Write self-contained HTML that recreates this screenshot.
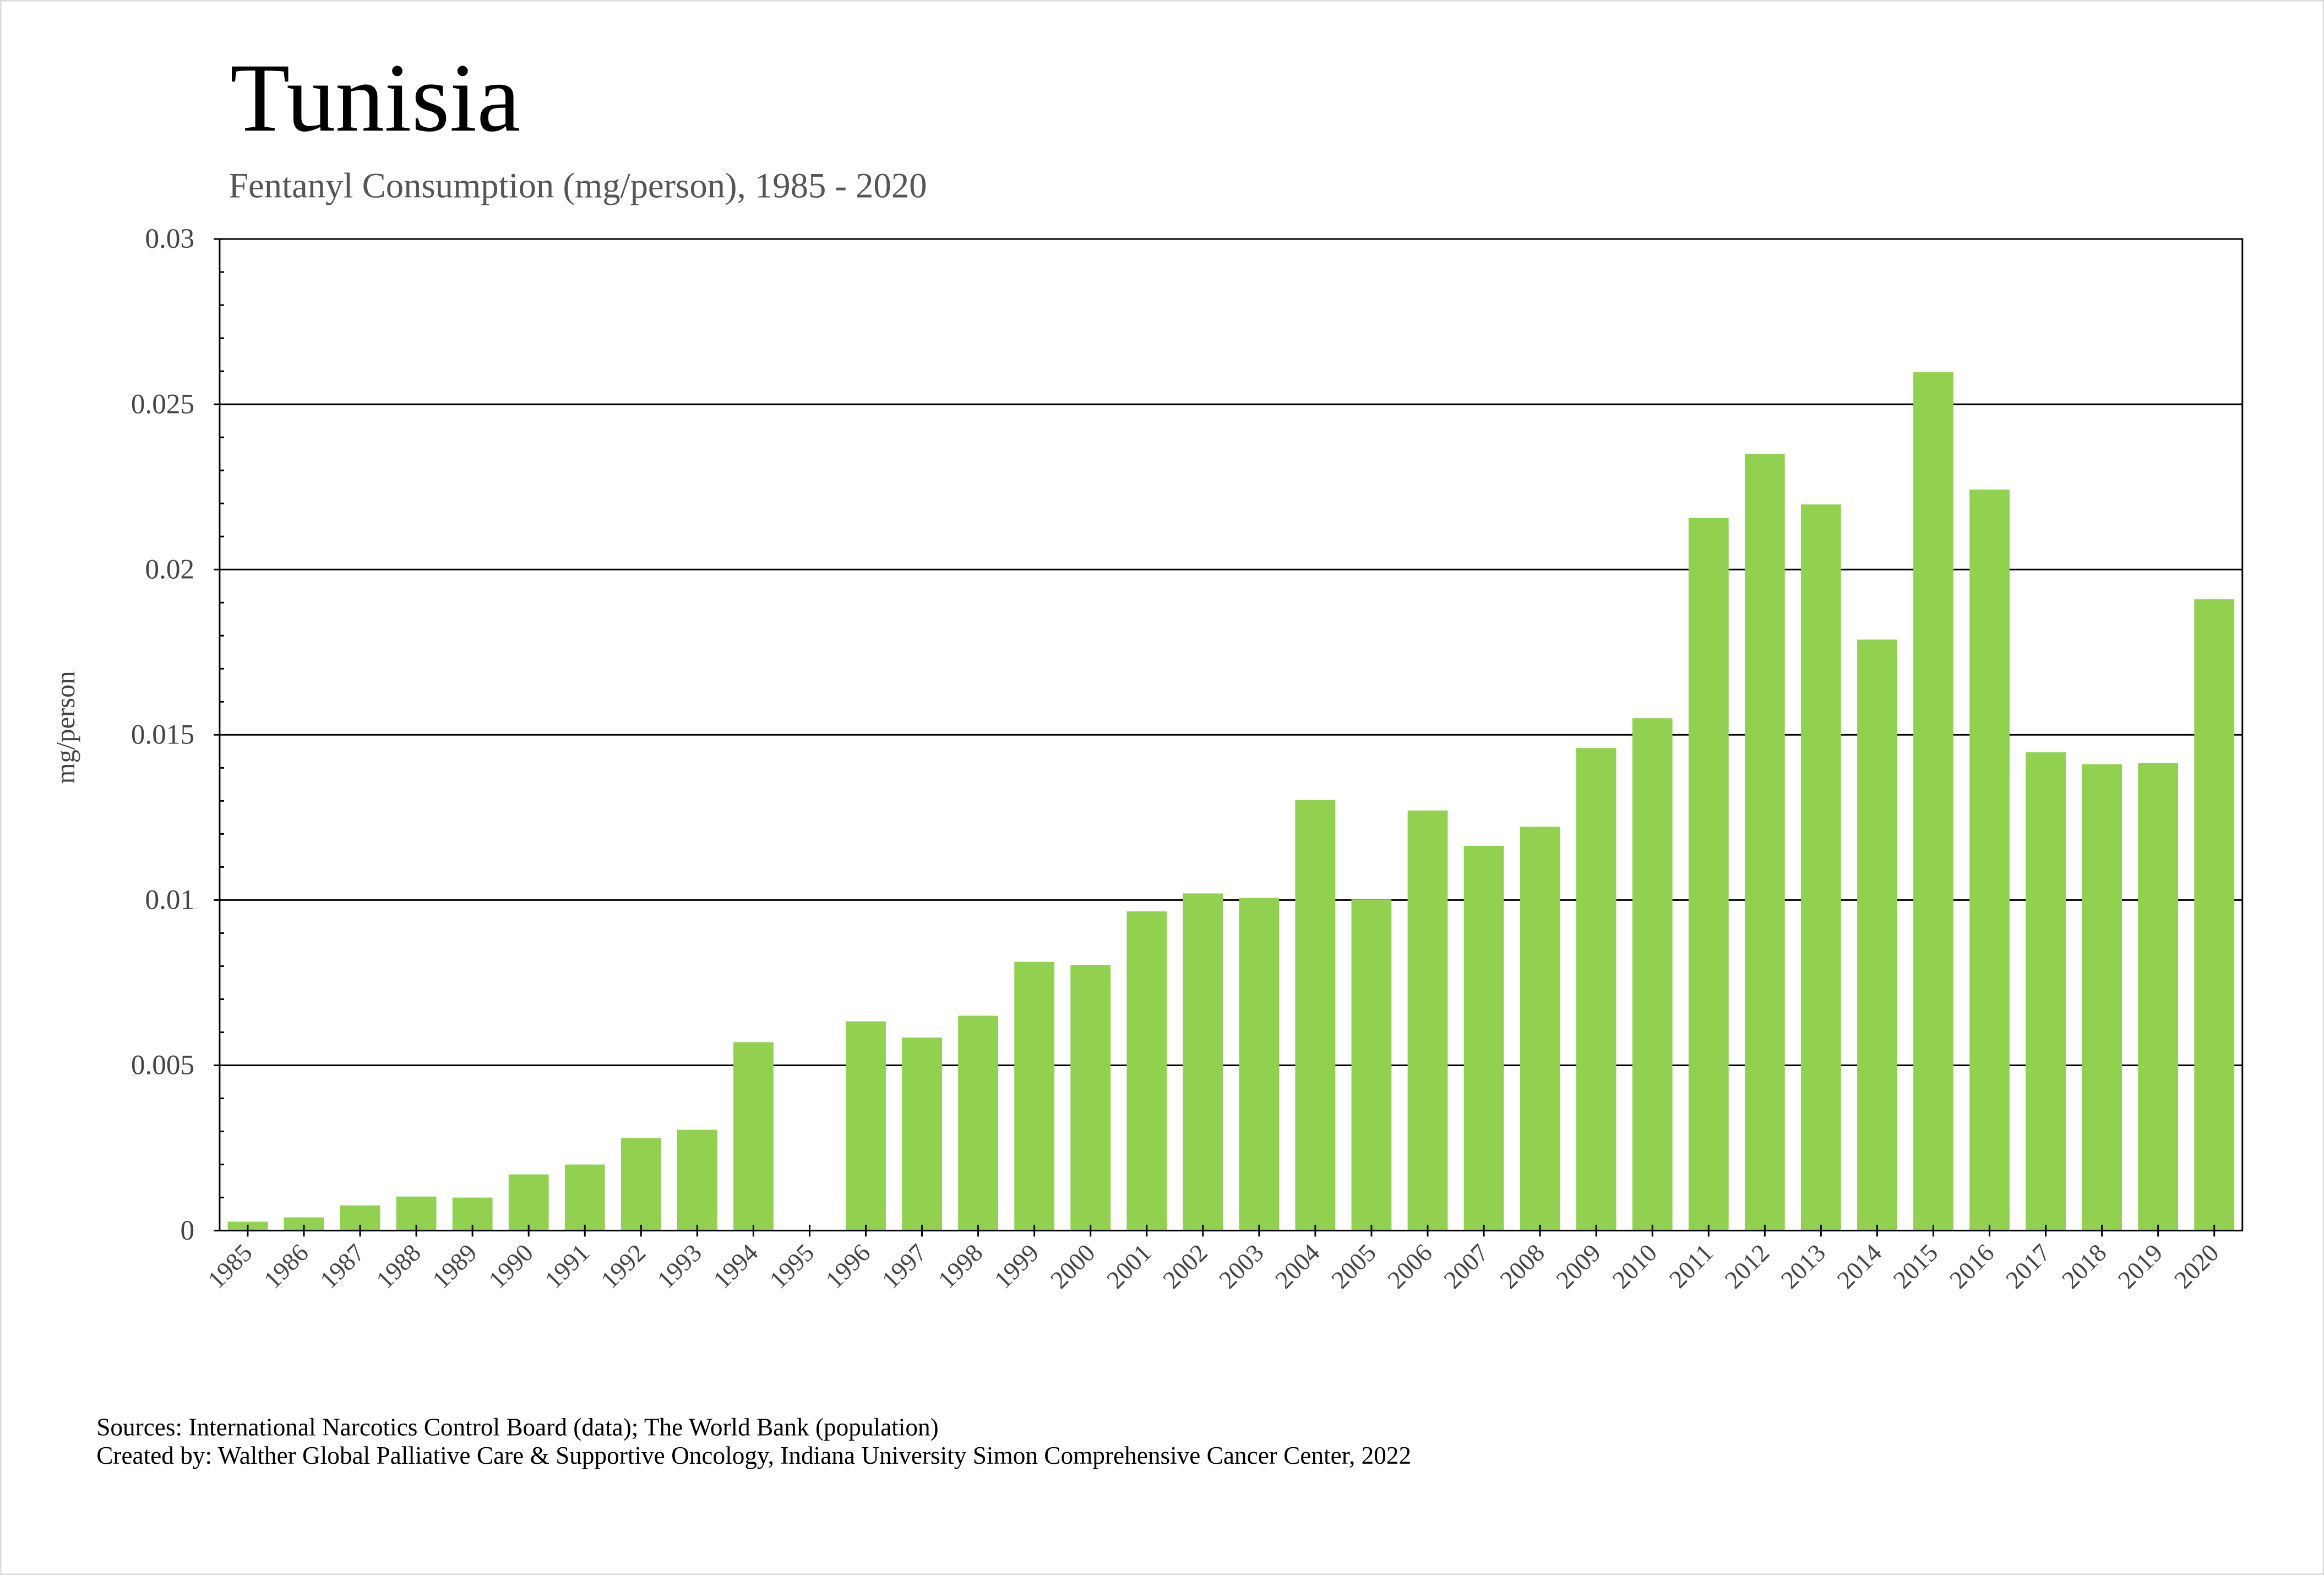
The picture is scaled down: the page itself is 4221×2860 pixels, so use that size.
<!DOCTYPE html>
<html><head><meta charset="utf-8"><style>html,body{margin:0;padding:0;background:#fff}svg{display:block}</style></head>
<body>
<svg width="4221" height="2860" viewBox="0 0 1566 1061" preserveAspectRatio="none" xmlns="http://www.w3.org/2000/svg" font-family="Liberation Serif, serif">
<rect x="0.5" y="0.5" width="1565" height="1060" fill="#fff" stroke="#ddd" stroke-width="1"/>
<text x="155" y="88" font-size="66" fill="#000">Tunisia</text>
<text x="154" y="133" font-size="24" fill="#555">Fentanyl Consumption (mg/person), 1985 - 2020</text>
<text transform="translate(50,490) rotate(-90)" font-size="18" fill="#444" text-anchor="middle">mg/person</text>
<g id="grid" stroke="#000" stroke-width="1.1"></g>
<g id="bars" fill="#92d050"></g>
<g id="axes" stroke="#000" stroke-width="1.1"></g>
<g id="ylab" font-size="19" fill="#444" text-anchor="end"></g>
<g id="xlab" font-size="17" fill="#444" text-anchor="end"></g>
<text x="65" y="967" font-size="16.8" fill="#000">Sources: International Narcotics Control Board (data); The World Bank (population)</text>
<text x="65" y="986" font-size="16.8" fill="#000">Created by: Walther Global Palliative Care &amp; Supportive Oncology, Indiana University Simon Comprehensive Cancer Center, 2022</text>
</svg>
<script>
const NS="http://www.w3.org/2000/svg";
function el(p,t,a,txt){const e=document.createElementNS(NS,t);for(const k in a)e.setAttribute(k,a[k]);if(txt!==undefined)e.textContent=txt;document.getElementById(p).appendChild(e);}
const L=148,R=1511,T=161,B=829;
const vals=[0.00027,0.0004,0.00076,0.00103,0.001,0.0017,0.002,0.0028,0.00305,0.0057,0,0.00633,0.00584,0.0065,0.00813,0.00804,0.00966,0.0102,0.01006,0.01303,0.01002,0.01271,0.01164,0.01222,0.0146,0.0155,0.02156,0.0235,0.02197,0.01788,0.02597,0.02242,0.01447,0.01411,0.01415,0.0191];
const yv=v=>B-(v/0.03)*(B-T);
const labs=["0","0.005","0.01","0.015","0.02","0.025","0.03"];
for(let i=0;i<=6;i++){const y=yv(i*0.005);
 if(i>0&&i<6)el("grid","line",{x1:L-4,x2:R,y1:y,y2:y});
 else el("axes","line",{x1:L-4,x2:L,y1:y,y2:y});
 el("ylab","text",{x:131,y:y+6},labs[i]);}
for(let i=1;i<30;i++){if(i%5==0)continue;const y=yv(i*0.001);el("axes","line",{x1:L,x2:L+3,y1:y,y2:y});}
const sw=(R-L)/36;
vals.forEach((v,i)=>{const cx=L+sw*(i+0.5);
 if(v>0)el("bars","rect",{x:cx-13.5,y:yv(v),width:27,height:B-yv(v)});
 el("axes","line",{x1:cx,x2:cx,y1:B-4,y2:B+4});
 el("xlab","text",{transform:`translate(${cx+4},${B+16}) rotate(-45)`},String(1985+i));});
el("axes","rect",{x:L,y:T,width:R-L,height:B-T,fill:"none"});
</script>
</body></html>
